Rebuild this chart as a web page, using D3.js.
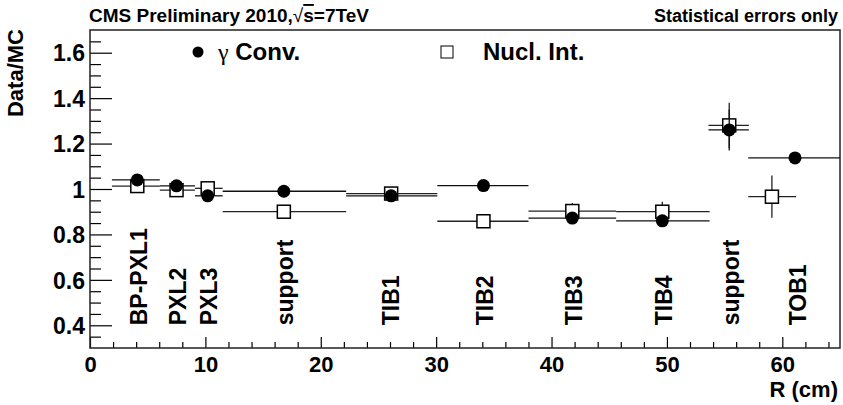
<!DOCTYPE html>
<html>
<head>
<meta charset="utf-8">
<script src="https://cdn.jsdelivr.net/npm/d3@7"></script>
<style>
    body { margin: 0; background: #fff; }
    text { font-family: "Liberation Sans", Arial, Helvetica, sans-serif; font-weight: bold; fill: #000; }
</style>
</head>
<body>
<svg id="chart" width="843" height="405"></svg>
<script>
// gamma conversions (filled circles)
const convR = [4.1, 7.5, 10.2, 16.8, 26.1, 34.1, 41.8, 49.6, 55.4, 61.1];
const convLo = [1.9, 6.05, 9.1, 11.5, 22.2, 30.1, 38.0, 45.6, 53.6, 57.05];
const convHi = [6.05, 9.1, 11.5, 22.2, 30.1, 38.0, 45.6, 53.7, 57.1, 65];
const convVal = [1.04, 1.014, 0.97, 0.99, 0.97, 1.015, 0.872, 0.86, 1.26, 1.137];
const convErr = [0.01, 0.01, 0.012, 0.01, 0.01, 0.012, 0.012, 0.015, 0.09, 0.015];

// nuclear interactions (open squares)
const nuclR = [4.1, 7.5, 10.2, 16.8, 26.1, 34.1, 41.8, 49.6, 55.4, 59.1];
const nuclLo = [1.9, 6.05, 9.1, 11.5, 22.2, 30.1, 38.0, 45.6, 53.6, 57.05];
const nuclHi = [6.05, 9.1, 11.5, 22.2, 30.1, 38.0, 45.6, 53.7, 57.1, 61.2];
const nuclVal = [1.013, 0.995, 1.003, 0.90, 0.98, 0.858, 0.903, 0.90, 1.28, 0.966];
const nuclErr = [0.01, 0.01, 0.012, 0.015, 0.01, 0.02, 0.035, 0.044, 0.10, 0.093];

// detector layer labels
const layerNames = ["BP-PXL1", "PXL2", "PXL3", "support", "TIB1", "TIB2", "TIB3", "TIB4", "support", "TOB1"];
const layerR = [4.2, 7.6, 10.3, 16.9, 26.1, 34.2, 41.9, 49.7, 55.5, 61.3];

const yMajor = [0.4, 0.6, 0.8, 1, 1.2, 1.4, 1.6];
const xMajor = [0, 10, 20, 30, 40, 50, 60];

const svg = d3.select("#chart");
const frame = {left: 90, right: 840, top: 30, bottom: 348};

const x = d3.scaleLinear().domain([0, 65]).range([frame.left, frame.right]);
const y = d3.scaleLinear().domain([0.3, 1.7]).range([frame.bottom, frame.top]);

const yMinor = d3.range(0.35, 1.7, 0.05).map(v => +v.toFixed(2)).filter(v => yMajor.indexOf(v) < 0);
const xMinor = d3.range(2, 65, 2).filter(v => v % 10 !== 0);

// axes with ticks pointing inside the frame
svg.append("g")
    .attr("transform", `translate(${frame.left},0)`)
    .call(d3.axisLeft(y).tickValues(yMinor).tickSize(-11).tickFormat(""))
    .call(g => g.select(".domain").remove());

svg.append("g")
    .attr("transform", `translate(${frame.left},0)`)
    .call(d3.axisLeft(y).tickValues(yMajor).tickSize(-22).tickPadding(5)
        .tickFormat(d => d === 1 ? "1" : d3.format(".1f")(d)))
    .call(g => g.select(".domain").remove())
    .call(g => g.selectAll("text").attr("font-size", 23).attr("dy", "0.36em"));

svg.append("g")
    .attr("transform", `translate(0,${frame.bottom})`)
    .call(d3.axisBottom(x).tickValues(xMinor).tickSize(-6).tickFormat(""))
    .call(g => g.select(".domain").remove());

svg.append("g")
    .attr("transform", `translate(0,${frame.bottom})`)
    .call(d3.axisBottom(x).tickValues(xMajor).tickSize(-11).tickPadding(8).tickFormat(d3.format("d")))
    .call(g => g.select(".domain").remove())
    .call(g => g.selectAll("text").attr("font-size", 22).attr("dy", "0.71em"));

svg.selectAll(".tick line").attr("stroke", "#000").attr("stroke-width", 1.2);

// frame
svg.append("rect")
    .attr("x", frame.left).attr("y", frame.top)
    .attr("width", frame.right - frame.left).attr("height", frame.bottom - frame.top)
    .attr("fill", "none").attr("stroke", "#222").attr("stroke-width", 1.5);

// layer labels
svg.append("g").selectAll("text")
    .data(layerNames)
    .join("text")
    .attr("transform", (d, i) => `translate(${x(layerR[i])},${y(0.4)}) rotate(-90)`)
    .attr("dy", "0.36em")
    .attr("font-size", 23)
    .text(d => d);

const plot = svg.append("g");

function drawErrors(R, lo, hi, val, err, colour) {
    const g = plot.append("g").attr("stroke", colour).attr("stroke-width", 1.3);
    g.selectAll("line.h").data(R).join("line").attr("class", "h")
        .attr("x1", (d, i) => x(lo[i])).attr("x2", (d, i) => Math.min(x(hi[i]), frame.right))
        .attr("y1", (d, i) => y(val[i])).attr("y2", (d, i) => y(val[i]));
    g.selectAll("line.v").data(R).join("line").attr("class", "v")
        .attr("x1", d => x(d)).attr("x2", d => x(d))
        .attr("y1", (d, i) => y(val[i] - err[i])).attr("y2", (d, i) => y(val[i] + err[i]));
}

// open squares first, filled circles on top
drawErrors(nuclR, nuclLo, nuclHi, nuclVal, nuclErr, "#222");
plot.append("g").selectAll("rect")
    .data(nuclR)
    .join("rect")
    .attr("x", d => x(d) - 6.5)
    .attr("y", (d, i) => y(nuclVal[i]) - 6.5)
    .attr("width", 13).attr("height", 13)
    .attr("fill", "#fff").attr("stroke", "#000").attr("stroke-width", 1.5);

drawErrors(convR, convLo, convHi, convVal, convErr, "#111");
plot.append("g").selectAll("circle")
    .data(convR)
    .join("circle")
    .attr("cx", d => x(d))
    .attr("cy", (d, i) => y(convVal[i]))
    .attr("r", 6.5)
    .attr("fill", "#000");

// legend
svg.append("circle").attr("cx", 198).attr("cy", 52).attr("r", 5.5).attr("fill", "#000");
const lg = svg.append("text").attr("x", 218).attr("y", 60).attr("font-size", 24);
lg.append("tspan").attr("font-family", "Liberation Serif, serif").attr("font-weight", "normal").text("γ");
lg.append("tspan").text(" Conv.");
svg.append("rect").attr("x", 441).attr("y", 46).attr("width", 12).attr("height", 12)
    .attr("fill", "#fff").attr("stroke", "#000").attr("stroke-width", 1);
svg.append("text").attr("x", 483).attr("y", 60).attr("font-size", 24).text("Nucl. Int.");

// titles
const title = svg.append("text").attr("x", 89).attr("y", 22).attr("font-size", 19);
title.append("tspan").text("CMS Preliminary 2010,");
title.append("tspan").attr("font-weight", "normal").text("√");
title.append("tspan").style("text-decoration", "overline").text("s");
title.append("tspan").text("=7TeV");

svg.append("text").attr("x", 838).attr("y", 22).attr("text-anchor", "end")
    .attr("font-size", 18).text("Statistical errors only");

svg.append("text").attr("x", 838).attr("y", 397).attr("text-anchor", "end")
    .attr("font-size", 22).text("R (cm)");

svg.append("text")
    .attr("transform", "translate(23,29) rotate(-90)")
    .attr("text-anchor", "end")
    .attr("font-size", 22)
    .text("Data/MC");
</script>
</body>
</html>
